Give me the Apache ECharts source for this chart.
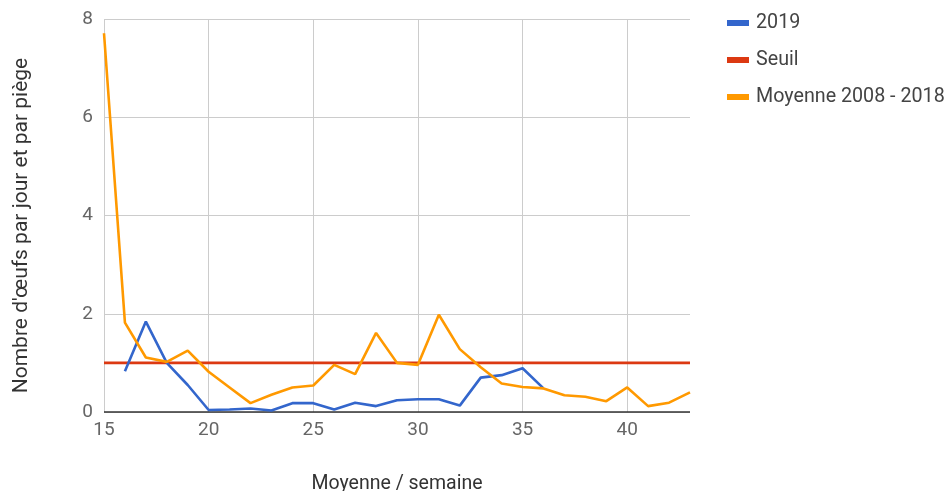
<!DOCTYPE html>
<html><head><meta charset="utf-8">
<script src="https://cdn.jsdelivr.net/npm/echarts@6/dist/echarts.min.js"></script>
<style>html,body{margin:0;padding:0;background:#fff}#c{width:947px;height:491px}</style>
</head><body><div id="c"></div>
<script>
const weeks = [15,16,17,18,19,20,21,22,23,24,25,26,27,28,29,30,31,32,33,34,35,36,37,38,39,40,41,42,43];
const y2019 = [null,0.83,1.84,1.0,0.55,0.04,0.05,0.07,0.03,0.18,0.18,0.05,0.19,0.12,0.24,0.26,0.26,0.13,0.70,0.75,0.89,0.48,null,null,null,null,null,null,null];
const seuil = [1,1,1,1,1,1,1,1,1,1,1,1,1,1,1,1,1,1,1,1,1,1,1,1,1,1,1,1,1];
const moyenne = [7.71,1.82,1.11,1.02,1.25,0.82,0.50,0.18,0.35,0.50,0.54,0.96,0.77,1.61,1.0,0.96,1.98,1.28,0.91,0.58,0.51,0.48,0.34,0.31,0.22,0.50,0.12,0.19,0.40];
const xTicks = [15,20,25,30,35,40];
const yTicks = [0,2,4,6,8];
const names = ['2019','Seuil','Moyenne 2008 - 2018'];

const pair = arr => weeks.map((w,i)=>[w,arr[i]]);
const font = 'Roboto, "Noto Sans", sans-serif';
const chart = echarts.init(document.getElementById('c'));
chart.setOption({
  animation:false,
  color:['#3366cc','#dc3912','#ff9900'],
  grid:{left:104,right:257,top:19,bottom:79,containLabel:false,outerBoundsMode:'none'},
  legend:{
    orient:'vertical',left:722,top:8,
    icon:'rect',itemWidth:22,itemHeight:6,itemGap:17,
    textStyle:{fontFamily:font,fontSize:19.7,color:'#444',padding:[0,0,0,2],lineHeight:20},
    data:names
  },
  xAxis:{
    type:'value',min:15,max:43,interval:5,
    name:'Moyenne / semaine',nameLocation:'middle',nameGap:62,
    nameTextStyle:{fontFamily:font,fontSize:19.5,color:'#333'},
    axisLine:{show:false},axisTick:{show:false},
    axisLabel:{fontFamily:font,fontSize:19,color:'#666',margin:9,
      formatter:v=>xTicks.includes(v)?String(v):''},
    splitLine:{showMaxLine:false,lineStyle:{color:'#cccccc',width:1}}
  },
  yAxis:{
    type:'value',min:0,max:8,interval:2,
    name:"Nombre d'œufs par jour et par piège",nameLocation:'middle',nameGap:72,
    nameTextStyle:{fontFamily:font,fontSize:21,color:'#333',padding:[0,20,0,0]},
    axisLine:{show:false},axisTick:{show:false},
    axisLabel:{fontFamily:font,fontSize:19,color:'#666',margin:11,
      formatter:v=>yTicks.includes(v)?String(v):''},
    splitLine:{lineStyle:{color:'#cccccc',width:1}}
  },
  series:[
    {name:names[0],type:'line',data:pair(y2019),showSymbol:false,symbol:'none',lineStyle:{width:2.6},z:3},
    {name:names[1],type:'line',data:pair(seuil),showSymbol:false,symbol:'none',lineStyle:{width:2.6},z:2},
    {name:names[2],type:'line',data:pair(moyenne),showSymbol:false,symbol:'none',lineStyle:{width:2.6},z:4,
      markLine:{silent:true,symbol:'none',label:{show:false},lineStyle:{color:'#333',width:1.5,type:'solid'},data:[{yAxis:0}],z:1}}
  ]
});
</script></body></html>
